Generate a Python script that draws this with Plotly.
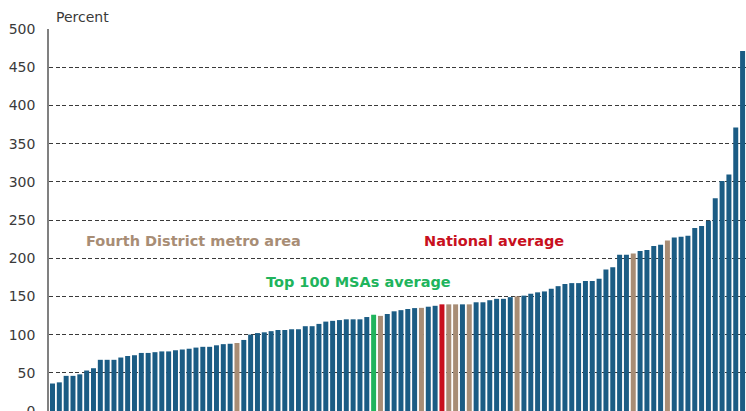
import plotly.graph_objects as go

# Ranked metro areas (left to right), values in percent
values = [36, 37.5, 46, 46, 48, 53, 56, 67, 67, 67,
          70, 72, 73, 76, 76, 77, 78, 78, 79.5, 80.5,
          81.5, 83, 84, 84, 86, 87.5, 88, 89, 93, 100,
          102, 103, 104.5, 106, 106, 107, 107, 111, 111, 114,
          117, 118, 119, 120, 120, 120, 123, 126, 124.5, 127,
          130.5, 132, 133.5, 134.7, 135, 136.5, 137.7, 139.6, 139.6, 139.6,
          139.6, 139.6, 142.3, 142.3, 145, 146.8, 146.8, 149, 150, 151,
          153.5, 155.3, 156.5, 160, 163.4, 166.2, 167.4, 167.4, 170, 170.2,
          173, 185.3, 188, 204.5, 204.5, 206.3, 209.3, 210.6, 216, 217.5,
          223.2, 227, 228.2, 229.5, 239.5, 242, 249, 278.6, 301, 309.7,
          371, 471.3]
ranks = list(range(1, len(values) + 1))

# positions (1-based rank) of highlighted bars
fourth_district_ranks = [28, 49, 55, 59, 60, 62, 69, 86, 91]
national_rank = [58]
top100_rank = [48]

y_ticks = [0, 50, 100, 150, 200, 250, 300, 350, 400, 450, 500]

BLUE = "#1b5c84"
TAN = "#a88d75"
RED = "#c8101e"
GREEN = "#20b45c"

colors = []
for r in ranks:
    if r in national_rank:
        colors.append(RED)
    elif r in top100_rank:
        colors.append(GREEN)
    elif r in fourth_district_ranks:
        colors.append(TAN)
    else:
        colors.append(BLUE)

fig = go.Figure(go.Bar(x=ranks, y=values, marker=dict(color=colors, line=dict(width=0)),
                       showlegend=False))

FONT = "DejaVu Sans, Liberation Sans, Arial, sans-serif"

fig.update_layout(
    width=746, height=411,
    margin=dict(l=49, r=0, t=29, b=0, autoexpand=False),
    paper_bgcolor="white", plot_bgcolor="white",
    bargap=0.27,
    font=dict(family=FONT, color="#333333"),
    xaxis=dict(range=[0.49, len(values) + 0.5], showticklabels=False, showgrid=False,
               zeroline=False, showline=False, ticks="", automargin=False),
    yaxis=dict(range=[0, 500], tickvals=y_ticks, ticktext=[str(v) for v in y_ticks],
               showgrid=True, gridcolor="#3a3a3a", griddash="4px,2.5px", gridwidth=1,
               zeroline=False, showline=True, linecolor="#808080", linewidth=1.5,
               ticks="", ticklabelstandoff=9, automargin=False,
               ticklabeloverflow="allow",
               tickfont=dict(size=14, color="#3a3a3a")),
)

fig.add_annotation(text="Percent", xref="paper", yref="paper", x=0.0065, y=1.0,
                   xanchor="left", yanchor="bottom", yshift=2, showarrow=False,
                   font=dict(size=14, color="#3a3a3a"))

fig.add_annotation(text="<b>Fourth District metro area</b>", xref="paper", yref="y",
                   x=(84 - 49) / 697, y=222, xanchor="left", yanchor="middle",
                   showarrow=False, font=dict(size=14.5, color=TAN))
fig.add_annotation(text="<b>National average</b>", xref="paper", yref="y",
                   x=(422 - 49) / 697, y=222, xanchor="left", yanchor="middle",
                   showarrow=False, font=dict(size=14.5, color=RED))
fig.add_annotation(text="<b>Top 100 MSAs average</b>", xref="paper", yref="y",
                   x=(264 - 49) / 697, y=169, xanchor="left", yanchor="middle",
                   showarrow=False, font=dict(size=14.5, color=GREEN))

fig.write_html("out.html", config={"displayModeBar": False},
               post_script="document.body.style.margin='0';document.body.style.padding='0';"
                           "document.body.style.overflow='hidden';")
